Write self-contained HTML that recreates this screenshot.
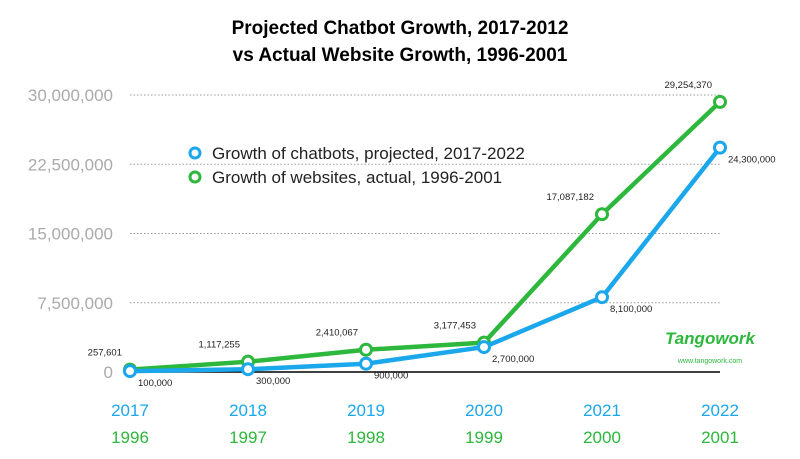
<!DOCTYPE html>
<html><head><meta charset="utf-8"><style>
body{margin:0;background:#fff;}
svg{display:block;font-family:"Liberation Sans",sans-serif;}
</style></head><body>
<svg id="chart" width="800" height="459">
<text x="400" y="34" text-anchor="middle" font-size="19" font-weight="bold">Projected Chatbot Growth, 2017-2012</text>
<text x="400" y="61" text-anchor="middle" font-size="19" font-weight="bold">vs Actual Website Growth, 1996-2001</text>
<g id="grid"></g><g id="lines"></g><g id="labels"></g>
<g>
<circle cx="195" cy="153" r="5" fill="#fff" stroke="#1aa7ec" stroke-width="3"/>
<text x="212" y="159" font-size="17" fill="#222">Growth of chatbots, projected, 2017-2022</text>
<circle cx="195" cy="177" r="5" fill="#fff" stroke="#2db83d" stroke-width="3"/>
<text x="212" y="183" font-size="17" fill="#222">Growth of websites, actual, 1996-2001</text>
</g>
<g>
<text x="710" y="344" text-anchor="middle" font-size="17" font-weight="bold" font-style="italic" fill="#2db83d">Tangowork</text>
<text x="710" y="363" text-anchor="middle" font-size="7" fill="#2db83d">www.tangowork.com</text>
</g>
</svg>
<script>
const chatYears=["2017","2018","2019","2020","2021","2022"];
const webYears=["1996","1997","1998","1999","2000","2001"];
const chatbots=[100000,300000,900000,2700000,8100000,24300000];
const websites=[257601,1117255,2410067,3177453,17087182,29254370];
const yTicks=[0,7500000,15000000,22500000,30000000];
const yTickLabels=["0","7,500,000","15,000,000","22,500,000","30,000,000"];
const NS="http://www.w3.org/2000/svg";
const x0=130,x1=720,y0=372,yTop=95;
const xS=i=>x0+i*(x1-x0)/5;
const yS=v=>y0-(v/30000000)*(y0-yTop);
function mk(p,t,a){const e=document.createElementNS(NS,t);for(const k in a)e.setAttribute(k,a[k]);document.getElementById(p).appendChild(e);return e;}
yTicks.forEach((v,i)=>{
 if(v>0){const l=mk('grid','line',{x1:x0,x2:x1,y1:yS(v),y2:yS(v),stroke:'#999','stroke-width':1,'stroke-dasharray':'1.5,2'});
 
 }
 const t=mk('grid','text',{x:113,y:yS(v)+6,'text-anchor':'end','font-size':17,fill:'#aaa'});t.textContent=yTickLabels[i];
 
 
});
const ax=mk('grid','line',{x1:x0,x2:x1,y1:y0,y2:y0,stroke:'#000','stroke-width':1.5});


chatYears.forEach((y,i)=>{
 const a=mk('labels','text',{x:xS(i),y:416,'text-anchor':'middle','font-size':17,fill:'#1aa7ec'});a.textContent=y;
 
 
 const b=mk('labels','text',{x:xS(i),y:443,'text-anchor':'middle','font-size':17,fill:'#2db83d'});b.textContent=webYears[i];
 
 
});
function fmt(v){return v.toLocaleString('en-US');}
function series(vals,color,name,below){
 const p=mk('lines','polyline',{points:vals.map((v,i)=>xS(i)+','+yS(v)).join(' '),fill:'none',stroke:color,'stroke-width':4.5,'stroke-linejoin':'round'});
 
 
 vals.forEach((v,i)=>{
  const c=mk('lines','circle',{cx:xS(i),cy:yS(v),r:5.5,fill:'#fff',stroke:color,'stroke-width':3});
  
  
  const t=mk('labels','text',{x:below?xS(i)+8:xS(i)-8,y:below?yS(v)+15:yS(v)-14,'text-anchor':below?'start':'end','font-size':9.5,fill:'#222'});
  t.textContent=fmt(v);
  
  
 });
}
series(websites,'#2db83d','websites',false);
series(chatbots,'#1aa7ec','chatbots',true);
</script>
</body></html>
